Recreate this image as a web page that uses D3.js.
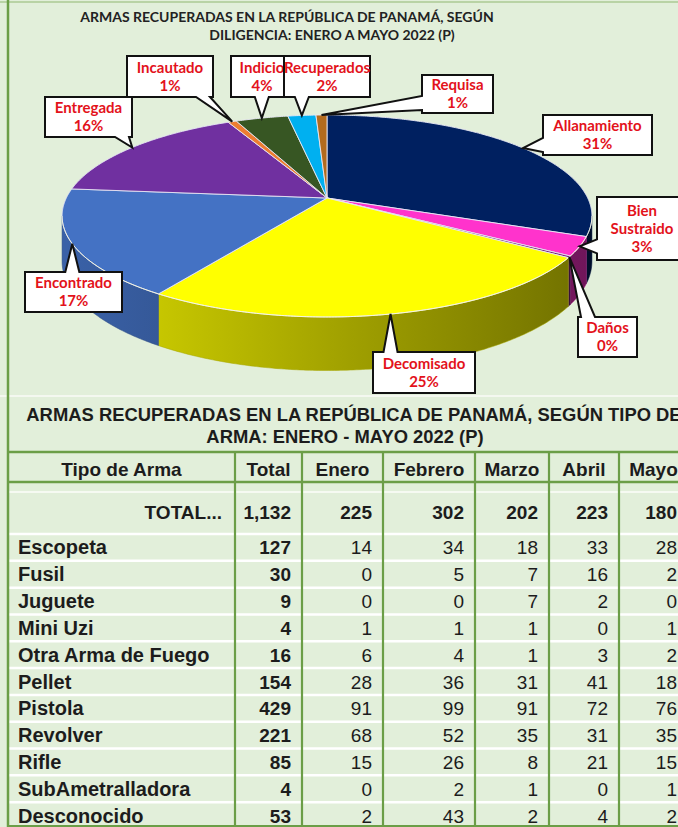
<!DOCTYPE html>
<html>
<head>
<meta charset="utf-8">
<script src="https://cdn.jsdelivr.net/npm/d3@7/dist/d3.min.js"></script>
<style>
  body { margin: 0; background: #fff; }
  svg { display: block; }
</style>
</head>
<body>
<div id="chart"></div>
<script>
// ---- pie data: armas recuperadas segun diligencia
var diligencias = ["Allanamiento", "Bien Sustraido", "Daños", "Decomisado", "Encontrado",
                   "Entregada", "Incautado", "Indicio", "Recuperados", "Requisa"];
var cantidades = [351, 34, 3, 283, 195, 184, 7, 43, 23, 9];
var coloresPie = ["#002060", "#ff33cc", "#7a1f7a", "#ffff00", "#4472c4",
                  "#7030a0", "#ed7d31", "#375623", "#00b0f0", "#b36b1e"];

// ---- table data: armas recuperadas segun tipo de arma
var encabezados = ["Tipo de Arma", "Total", "Enero", "Febrero", "Marzo", "Abril", "Mayo"];
var tipos = ["Escopeta", "Fusil", "Juguete", "Mini Uzi", "Otra Arma de Fuego", "Pellet",
             "Pistola", "Revolver", "Rifle", "SubAmetralladora", "Desconocido"];
var total   = [127, 30, 9, 4, 16, 154, 429, 221, 85, 4, 53];
var enero   = [14, 0, 0, 1, 6, 28, 91, 68, 15, 0, 2];
var febrero = [34, 5, 0, 1, 4, 36, 99, 52, 26, 2, 43];
var marzo   = [18, 7, 7, 1, 1, 31, 91, 35, 8, 1, 2];
var abril   = [33, 16, 2, 0, 3, 41, 72, 31, 21, 0, 4];
var mayo    = [28, 2, 0, 1, 2, 18, 76, 35, 15, 1, 2];

var width = 678, height = 827;
var verde = "#6b9e47";

var svg = d3.select("#chart").append("svg")
    .attr("width", width)
    .attr("height", height);

svg.append("rect").attr("width", width).attr("height", height).attr("fill", "#e2efda");
svg.append("line").attr("x1", 0).attr("x2", width).attr("y1", 2).attr("y2", 2)
    .attr("stroke", "#b9d3a5").attr("stroke-width", 2);
svg.append("line").attr("x1", 0).attr("x2", width).attr("y1", 396).attr("y2", 396)
    .attr("stroke", "#f4f8f0").attr("stroke-width", 2);

// ---------------- pie title
var titulo = svg.append("g")
    .attr("font-family", "Lato, sans-serif")
    .attr("font-weight", "bold")
    .attr("font-size", 14)
    .attr("fill", "#222")
    .attr("text-anchor", "middle");
titulo.append("text").attr("x", 287).attr("y", 22).text("ARMAS RECUPERADAS EN LA REPÚBLICA DE PANAMÁ, SEGÚN");
titulo.append("text").attr("x", 332).attr("y", 40).text("DILIGENCIA: ENERO A MAYO 2022 (P)");

// ---------------- 3D pie (perspective view of a flat disc)
var CX = 327, CY = 198, RA = 260.7, RB = 97.8, K = 0.178, DEPTH = 44;

function proj(t, abajo) {
    var u = Math.sin(t), v = Math.cos(t), w = 1 + K * v;
    return [CX + RA * u / w, CY - RB * v / w + (abajo ? DEPTH / w : 0)];
}
function borde(a0, a1, abajo) {
    var n = Math.max(2, Math.ceil((a1 - a0) / 0.01));
    return d3.range(n + 1).map(function(i) { return proj(a0 + (a1 - a0) * i / n, abajo); });
}

var arcos = d3.pie().sort(null).value(function(d) { return d; })(cantidades);
var suma = d3.sum(cantidades);
var linea = d3.line();
var thR = Math.acos(-K), thL = 2 * Math.PI - thR;

var defs = svg.append("defs");
coloresPie.forEach(function(c, i) {
    var g = defs.append("linearGradient").attr("id", "lado" + i)
        .attr("gradientUnits", "userSpaceOnUse")
        .attr("x1", CX - RA).attr("x2", CX + RA).attr("y1", 0).attr("y2", 0);
    g.append("stop").attr("offset", 0).attr("stop-color", d3.color(c).darker(0.45));
    g.append("stop").attr("offset", 1).attr("stop-color", d3.color(c).darker(2.3));
});

var pieG = svg.append("g");

// side walls (front half only)
pieG.selectAll("path.lado")
    .data(arcos.filter(function(d) { return Math.min(d.endAngle, thL) > Math.max(d.startAngle, thR); }))
    .enter().append("path")
    .attr("class", "lado")
    .attr("d", function(d) {
        var s = Math.max(d.startAngle, thR), e = Math.min(d.endAngle, thL);
        return linea(borde(s, e, false).concat(borde(s, e, true).reverse())) + "Z";
    })
    .attr("fill", function(d) { return "url(#lado" + d.index + ")"; })
    .attr("stroke", function(d) { return d3.color(coloresPie[d.index]).darker(1.2); })
    .attr("stroke-width", 0.5);

// top faces
pieG.selectAll("path.cara")
    .data(arcos)
    .enter().append("path")
    .attr("class", "cara")
    .attr("d", function(d) {
        return linea([[CX, CY]].concat(borde(d.startAngle, d.endAngle, false))) + "Z";
    })
    .attr("fill", function(d) { return coloresPie[d.index]; })
    .attr("stroke", "#e6e6f4")
    .attr("stroke-width", 0.9)
    .attr("stroke-linejoin", "round");

// light rim line on the front edge
pieG.append("path")
    .attr("d", linea(borde(thR, thL, false)))
    .attr("fill", "none")
    .attr("stroke", "#fbfbe0")
    .attr("stroke-width", 1)
    .attr("stroke-opacity", 0.8);

// ---------------- callout labels
// box layout per label: x, y, w, h, wrap words
var cajas = [
    [543, 115, 109, 40, false],
    [597, 197, 90, 63, true],
    [578, 317, 59, 40, false],
    [373, 352, 102, 41, false],
    [25, 272, 97, 40, false],
    [45, 97, 87, 40, false],
    [127, 56, 86, 41, false],
    [231, 56, 62, 41, false],
    [284, 56, 86, 41, false],
    [422, 75, 71, 38, false]
];

function globo(b, tx, ty) {
    var x = b[0], y = b[1], w = b[2], h = b[3], hw = 7;
    var cl = function(v, lo, hi) { return Math.max(lo, Math.min(hi, v)); };
    var p;
    if (ty > y + h + 4) {
        var c = cl(tx, x + hw + 3, x + w - hw - 3);
        p = [[x, y], [x + w, y], [x + w, y + h], [c + hw, y + h], [tx, ty], [c - hw, y + h], [x, y + h]];
    } else if (ty < y) {
        var c2 = cl(tx, x + hw + 3, x + w - hw - 3);
        p = [[x, y], [c2 - hw, y], [tx, ty], [c2 + hw, y], [x + w, y], [x + w, y + h], [x, y + h]];
    } else if (tx < x) {
        var c3 = cl(ty, y + hw + 3, y + h - hw - 3);
        p = [[x, y], [x + w, y], [x + w, y + h], [x, y + h], [x, c3 + hw], [tx, ty], [x, c3 - hw]];
    } else {
        var c4 = cl(ty, y + hw + 3, y + h - hw - 3);
        p = [[x, y], [x + w, y], [x + w, c4 - hw], [tx, ty], [x + w, c4 + hw], [x + w, y + h], [x, y + h]];
    }
    return linea(p) + "Z";
}

var etiquetas = svg.append("g")
    .selectAll("g")
    .data(arcos)
    .enter().append("g");

etiquetas.append("path")
    .attr("d", function(d) {
        var t = proj((d.startAngle + d.endAngle) / 2, false);
        return globo(cajas[d.index], t[0], t[1]);
    })
    .attr("fill", "#fff")
    .attr("stroke", "#111")
    .attr("stroke-width", 2)
    .attr("stroke-linejoin", "miter");

etiquetas.each(function(d) {
    var b = cajas[d.index];
    var lineas = b[4] ? diligencias[d.index].split(" ") : [diligencias[d.index]];
    lineas.push(Math.round(d.value / suma * 100) + "%");
    var t = d3.select(this).append("text")
        .attr("font-family", "Lato, sans-serif")
        .attr("font-weight", "bold")
        .attr("font-size", 15)
        .attr("fill", "#e3121b")
        .attr("text-anchor", "middle");
    var y0 = b[1] + b[3] / 2 - (lineas.length - 1) * 9 + 5;
    lineas.forEach(function(l, i) {
        t.append("tspan").attr("x", b[0] + b[2] / 2).attr("y", y0 + i * 18).text(l);
    });
});

// ---------------- table
var tabla = svg.append("g")
    .attr("font-family", "'Liberation Sans', Arial, sans-serif")
    .attr("fill", "#1c1c1c");

tabla.append("text").attr("x", 354).attr("y", 421)
    .attr("text-anchor", "middle").attr("font-weight", "bold").attr("font-size", 18.4)
    .text("ARMAS RECUPERADAS EN LA REPÚBLICA DE PANAMÁ, SEGÚN TIPO DE");
tabla.append("text").attr("x", 345).attr("y", 443)
    .attr("text-anchor", "middle").attr("font-weight", "bold").attr("font-size", 18.4)
    .text("ARMA: ENERO - MAYO 2022 (P)");

var colX = [8, 235, 302, 383, 475, 549, 619, 688];
var columnas = [total, enero, febrero, marzo, abril, mayo];
var y = d3.scaleBand().domain(tipos).range([534, 829]);

// white row separators
tabla.selectAll("line.fila")
    .data(tipos)
    .enter().append("line")
    .attr("x1", colX[0]).attr("x2", width)
    .attr("y1", function(d) { return y(d); })
    .attr("y2", function(d) { return y(d); })
    .attr("stroke", "#ffffff").attr("stroke-width", 2.5);
tabla.append("line").attr("x1", colX[0]).attr("x2", width).attr("y1", 492).attr("y2", 492)
    .attr("stroke", "#f6faf2").attr("stroke-width", 2);

// green grid lines
tabla.append("line").attr("x1", colX[0]).attr("x2", width).attr("y1", 452).attr("y2", 452)
    .attr("stroke", verde).attr("stroke-width", 2.5);
tabla.append("line").attr("x1", colX[0]).attr("x2", width).attr("y1", 482).attr("y2", 482)
    .attr("stroke", verde).attr("stroke-width", 2.5);
tabla.append("line").attr("x1", colX[0]).attr("x2", width).attr("y1", 826).attr("y2", 826)
    .attr("stroke", verde).attr("stroke-width", 2);
tabla.selectAll("line.col")
    .data(colX.slice(1))
    .enter().append("line")
    .attr("x1", function(d) { return d; }).attr("x2", function(d) { return d; })
    .attr("y1", 452).attr("y2", height)
    .attr("stroke", verde).attr("stroke-width", 2.2);
svg.append("line").attr("x1", 8).attr("x2", 8).attr("y1", 0).attr("y2", height)
    .attr("stroke", verde).attr("stroke-width", 2.5);

// header
tabla.selectAll("text.enc")
    .data(encabezados)
    .enter().append("text")
    .attr("x", function(d, i) { return (colX[i] + colX[i + 1]) / 2; })
    .attr("y", 476)
    .attr("text-anchor", "middle")
    .attr("font-weight", "bold")
    .attr("font-size", 19)
    .text(function(d) { return d; });

// TOTAL row
var fmt = d3.format(",");
tabla.append("text").attr("x", 222).attr("y", 519)
    .attr("text-anchor", "end").attr("font-weight", "bold").attr("font-size", 19)
    .text("TOTAL...");
columnas.forEach(function(col, j) {
    tabla.append("text")
        .attr("x", colX[j + 2] - 11).attr("y", 519)
        .attr("text-anchor", "end").attr("font-weight", "bold").attr("font-size", 19)
        .text(fmt(d3.sum(col)));
});

// data rows
var filas = tabla.selectAll("g.fila")
    .data(tipos)
    .enter().append("g")
    .attr("transform", function(d) { return "translate(0," + (y(d) + y.bandwidth() / 2 + 7) + ")"; });

filas.append("text")
    .attr("x", 18)
    .attr("font-weight", "bold").attr("font-size", 20)
    .text(function(d) { return d; });

columnas.forEach(function(col, j) {
    filas.append("text")
        .attr("x", colX[j + 2] - 11)
        .attr("text-anchor", "end")
        .attr("font-weight", j === 0 ? "bold" : "normal")
        .attr("font-size", 19)
        .text(function(d, i) { return col[i]; });
});
</script>
</body>
</html>
